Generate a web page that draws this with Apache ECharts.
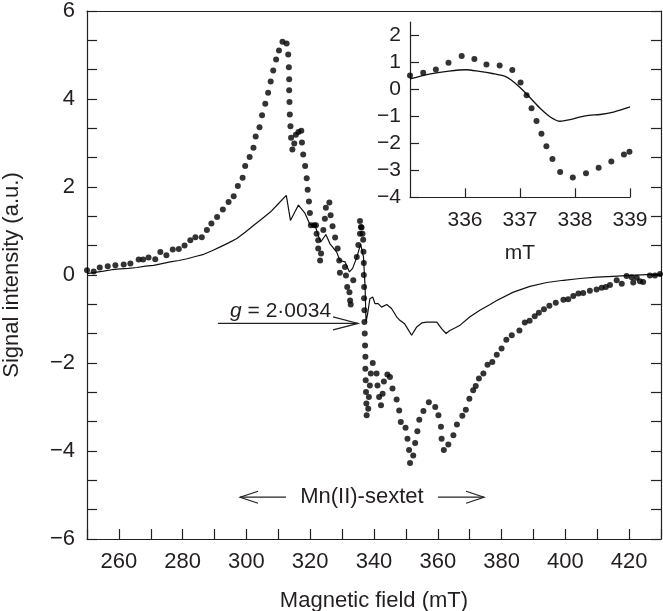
<!DOCTYPE html>
<html><head><meta charset="utf-8">
<script src="https://cdn.jsdelivr.net/npm/echarts@6/dist/echarts.min.js"></script>
<style>html,body{margin:0;padding:0;background:#fff}#c{width:663px;height:611px}</style>
</head><body><div id="c"></div>
<script>
// ---- main chart data (Magnetic field mT, signal a.u.) ----
const mainDots = [
[250.0,0.11],[252.1,0.08],[254.0,0.17],[256.5,0.20],[258.9,0.22],[261.5,0.24],[263.6,0.26],[266.2,0.35],[267.6,0.35],[269.3,0.40],
[271.4,0.36],[273.0,0.52],[274.9,0.45],[276.9,0.58],[278.8,0.59],[280.6,0.67],[282.4,0.79],[284.0,0.86],[286.0,0.86],[287.6,1.02],
[289.0,1.17],[290.8,1.32],[292.6,1.49],[294.4,1.66],[296.0,1.79],[297.3,2.02],[298.8,2.21],[299.6,2.48],[301.0,2.68],[302.2,2.89],
[302.9,3.15],[304.1,3.36],[304.9,3.63],[305.9,3.89],[306.8,4.14],[307.6,4.40],[308.4,4.65],[309.3,4.90],[310.2,5.10],[311.3,5.30],
[312.6,5.26],[313.1,5.01],[313.3,4.72],[313.4,4.45],[313.4,4.20],[313.5,3.93],[313.6,3.65],[313.8,3.38],[314.0,3.12],[314.4,2.85],
[315.0,2.99],[315.5,3.19],[316.3,3.25],[317.2,3.28],[317.4,3.01],[317.8,2.74],[318.4,2.48],[318.9,2.20],[319.2,1.94],[319.6,1.67],
[319.9,1.41],[320.2,1.13],[321.2,1.13],[321.8,1.13],[322.0,0.94],[322.5,0.79],[322.5,0.60],[323.4,0.49],[323.1,0.33],[324.1,1.02],
[324.6,1.28],[324.9,1.53],[326.0,1.65],[326.4,1.36],[327.0,1.11],[327.8,0.85],[328.6,0.60],[329.1,0.33],[329.3,0.05],[330.9,0.18],
[331.2,-0.01],[331.6,-0.27],[332.3,-0.39],[332.5,-0.58],[332.7,-0.67],[333.5,-0.12],[334.6,0.41],[335.1,0.68],[335.6,0.94],[335.9,1.09],
[335.6,1.23],[336.1,1.08],[336.4,0.94],[336.6,0.80],[336.7,0.53],[336.8,0.27],[336.8,0.00],[336.9,-0.27],[336.9,-0.53],[337.0,-0.80],
[337.0,-1.07],[337.1,-1.33],[337.2,-1.60],[337.3,-1.86],[337.3,-2.13],[337.4,-2.39],[337.5,-2.66],[337.6,-2.92],[337.7,-3.19],
[338.2,-3.04],[338.4,-2.77],[338.7,-2.51],[339.0,-2.24],[339.6,-2.00],[340.8,-2.24],[341.1,-2.51],[341.6,-2.77],[342.2,-2.96],[342.7,-2.70],
[343.1,-2.42],[344.2,-2.26],[345.0,-2.32],[345.8,-2.58],[347.1,-2.83],[347.9,-3.08],[348.4,-3.34],[349.9,-3.47],[350.5,-3.72],[351.0,-3.98],
[351.3,-4.27],[352.3,-4.10],[352.9,-3.82],[353.6,-3.55],[354.2,-3.29],[355.5,-3.09],[357.2,-2.89],[359.2,-3.00],[360.2,-3.19],[361.0,-3.45],
[361.2,-3.72],[361.9,-3.98],[363.3,-3.85],[364.9,-3.64],[366.0,-3.40],[367.7,-3.20],[368.8,-3.06],[369.9,-2.81],[371.1,-2.62],[371.9,-2.52],
[372.9,-2.35],[374.3,-2.24],[375.6,-2.04],[377.1,-1.98],[378.5,-1.81],[380.0,-1.67],[381.5,-1.47],[383.2,-1.37],[385.6,-1.26],[387.3,-1.08],
[388.8,-1.04],[390.4,-0.94],[391.7,-0.86],[393.3,-0.78],[395.0,-0.70],[397.0,-0.63],[399.4,-0.56],[400.9,-0.55],[402.5,-0.48],[404.1,-0.42],
[405.6,-0.41],[407.7,-0.36],[409.8,-0.33],[411.4,-0.29],[412.7,-0.27],[414.0,-0.23],[416.1,-0.12],[417.7,-0.20],[419.2,-0.02],[420.8,-0.05],
[421.3,-0.17],[422.4,-0.06],[423.4,-0.14],[424.4,-0.16],[426.5,-0.01],[428.1,-0.01],[429.7,0.02]
];
const mainLine = [
[250.0,0.03],[252.5,0.06],[255.2,0.09],[257.8,0.12],[260.4,0.14],[263.0,0.15],[265.7,0.17],[268.3,0.20],[270.9,0.22],[273.5,0.26],
[276.1,0.30],[278.8,0.33],[281.4,0.37],[284.0,0.42],[286.6,0.47],[289.2,0.55],[291.8,0.64],[294.4,0.73],[297.0,0.83],[299.6,0.97],
[302.3,1.13],[304.9,1.28],[307.5,1.43],[310.0,1.62],[312.5,1.81],[313.8,1.24],[316.3,1.59],[318.4,1.40],[319.9,1.15],[321.5,1.13],
[322.5,0.90],[323.3,0.75],[324.9,0.92],[326.2,0.71],[328.3,0.52],[329.3,0.33],[330.9,0.30],[332.3,0.07],[333.3,0.15],[334.6,0.40],
[335.8,0.70],[336.7,0.41],[337.2,-0.27],[337.5,-1.07],[338.0,-0.88],[338.7,-0.54],[339.6,-0.50],[340.3,-0.65],[341.3,-0.65],[342.4,-0.73],
[344.0,-0.67],[345.5,-0.76],[347.1,-0.95],[348.1,-1.03],[349.5,-1.10],[350.2,-1.18],[351.8,-1.37],[353.4,-1.18],[355.0,-1.09],[356.5,-1.07],
[358.1,-1.07],[359.7,-1.07],[361.2,-1.22],[362.6,-1.33],[363.8,-1.26],[365.5,-1.20],[367.0,-1.14],[370.1,-0.95],[373.2,-0.80],[376.4,-0.67],
[378.5,-0.58],[383.7,-0.39],[388.9,-0.26],[394.2,-0.17],[399.4,-0.12],[404.6,-0.08],[409.8,-0.05],[415.0,-0.03],[420.3,-0.01],[425.5,0.01],
[430.0,0.02]
];
// ---- inset data (mT) ----
const insetDots = [
[335.0,0.52],[335.24,0.62],[335.47,0.74],[335.70,0.99],[335.94,1.24],[336.17,1.13],[336.39,0.92],[336.63,0.89],[336.86,0.72],[337.01,0.26],
[337.12,-0.22],[337.21,-0.70],[337.30,-1.17],[337.39,-1.64],[337.48,-2.11],[337.59,-2.58],[337.73,-3.06],[337.96,-3.27],[338.20,-3.11],[338.43,-2.90],
[338.66,-2.67],[338.89,-2.41],[338.99,-2.31]
];
const insetLine = [
[335.0,0.39],[335.35,0.57],[335.71,0.68],[336.02,0.73],[336.26,0.67],[336.50,0.59],[336.72,0.49],[336.84,0.35],[337.0,0.07],[337.18,-0.30],
[337.37,-0.71],[337.55,-1.02],[337.73,-1.18],[337.91,-1.12],[338.10,-1.02],[338.25,-0.96],[338.46,-0.93],[338.70,-0.84],[339.0,-0.65]
];
// ---- tick labels ----
const mainXTicks = [250,260,270,280,290,300,310,320,330,340,350,360,370,380,390,400,410,420,430];
const mainXLabels = [260,280,300,320,340,360,380,400,420];
const mainYLabels = [-6,-4,-2,0,2,4,6];
const insetXLabels = [336,337,338,339];
const insetYLabels = [-4,-3,-2,-1,0,1,2];

const FONT = "'Liberation Sans', Arial, Helvetica, sans-serif";
const TXT = '#231f20';
const minus = v => String(v).replace('-', '\u2212');
// minor y ticks: thirds of each label interval
const mainYTicks = [];
for (let i = 0; i < mainYLabels.length; i++) {
  mainYTicks.push(mainYLabels[i]);
  if (i < mainYLabels.length - 1) {
    const a = mainYLabels[i], b = mainYLabels[i + 1];
    mainYTicks.push(a + (b - a) / 3, a + 2 * (b - a) / 3);
  }
}
const axLine = {show: true, onZero: false, lineStyle: {color: '#222', width: 1.2}};
const tickStyle = {color: '#222', width: 1.2};

const chart = echarts.init(document.getElementById('c'), null, {renderer: 'canvas'});
const option = {
  backgroundColor: '#fff',
  animation: false,
  textStyle: {fontFamily: FONT},
  grid: [
    {left: 87, top: 11, width: 574, height: 528},
    {left: 410, top: 22, width: 220, height: 175.3}
  ],
  xAxis: [
    {type: 'value', gridIndex: 0, min: 250, max: 430, position: 'bottom',
     axisLine: axLine, splitLine: {show: false},
     axisTick: {show: true, inside: true, length: 10, lineStyle: tickStyle, customValues: mainXTicks},
     axisLabel: {show: true, margin: 12, fontSize: 22, color: TXT, fontFamily: FONT, customValues: mainXLabels}},
    {type: 'value', gridIndex: 0, min: 250, max: 430, position: 'top',
     axisLine: axLine, splitLine: {show: false}, axisTick: {show: false}, axisLabel: {show: false}},
    {type: 'value', gridIndex: 1, min: 335, max: 339, position: 'bottom',
     axisLine: axLine, splitLine: {show: false},
     axisTick: {show: true, inside: true, length: 9, lineStyle: tickStyle, customValues: insetXLabels},
     axisLabel: {show: true, margin: 12, fontSize: 21, color: TXT, fontFamily: FONT, customValues: insetXLabels}}
  ],
  yAxis: [
    {type: 'value', gridIndex: 0, min: -6, max: 6, position: 'left',
     axisLine: axLine, splitLine: {show: false},
     axisTick: {show: true, inside: true, length: 10, lineStyle: tickStyle, customValues: mainYTicks},
     axisLabel: {show: true, margin: 12, fontSize: 22, color: TXT, fontFamily: FONT, customValues: mainYLabels, formatter: minus}},
    {type: 'value', gridIndex: 0, min: -6, max: 6, position: 'right',
     axisLine: axLine, splitLine: {show: false},
     axisTick: {show: true, inside: true, length: 10, lineStyle: tickStyle, customValues: mainYTicks},
     axisLabel: {show: false}},
    {type: 'value', gridIndex: 1, min: -4, max: 2.5, position: 'left',
     axisLine: axLine, splitLine: {show: false},
     axisTick: {show: true, inside: true, length: 9, lineStyle: tickStyle, customValues: insetYLabels},
     axisLabel: {show: true, margin: 9, fontSize: 21, color: TXT, fontFamily: FONT, customValues: insetYLabels, formatter: minus}}
  ],
  series: [
    {type: 'line', xAxisIndex: 0, yAxisIndex: 0, data: mainLine, showSymbol: false, symbol: 'none',
     lineStyle: {color: '#111', width: 1.2}, z: 3},
    {type: 'scatter', xAxisIndex: 0, yAxisIndex: 0, data: mainDots, symbol: 'circle', symbolSize: 6,
     itemStyle: {color: '#000'}, z: 4},
    {type: 'line', xAxisIndex: 2, yAxisIndex: 2, data: insetLine, showSymbol: false, symbol: 'none', smooth: 0.3,
     lineStyle: {color: '#111', width: 1.3}, z: 3},
    {type: 'scatter', xAxisIndex: 2, yAxisIndex: 2, data: insetDots, symbol: 'circle', symbolSize: 6,
     itemStyle: {color: '#000'}, z: 4}
  ]
};
chart.setOption(option);

// annotations placed in data coordinates
const P = (x, y) => chart.convertToPixel({gridIndex: 0}, [x, y]);
const PI = (x, y) => chart.convertToPixel({gridIndex: 1}, [x, y]);
function arrow(fromX, toX, y, back, half) {
  const a = P(fromX, y), b = P(toX, y);
  const dir = b[0] > a[0] ? 1 : -1;
  return [
    {type: 'polyline', shape: {points: [a, b]}, style: {stroke: '#222', lineWidth: 1.2, fill: null}, z: 10},
    {type: 'polyline', shape: {points: [[b[0] - dir * back, b[1] - half], b, [b[0] - dir * back, b[1] + half]]},
     style: {stroke: '#222', lineWidth: 1.2, fill: null}, z: 10}
  ];
}
const gT = P(310.7, -0.825), mnT = P(336.2, -5.05), mtT = PI(337, 0);
const graphics = [].concat(
  arrow(291.1, 335.0, -1.10, 25, 6.5),
  arrow(312.4, 298.0, -5.05, 18, 6),
  arrow(360.1, 374.5, -5.05, 18, 6),
  [
    {type: 'text', x: gT[0], y: gT[1], z: 10,
     style: {text: '{i|g} = 2·0034', rich: {i: {fontStyle: 'italic', fontSize: 21, fontFamily: FONT, fill: TXT}},
             fontSize: 21, fontFamily: FONT, fill: TXT, align: 'center', verticalAlign: 'middle'}},
    {type: 'text', x: mnT[0], y: mnT[1], z: 10,
     style: {text: 'Mn(II)-sextet', fontSize: 22, fontFamily: FONT, fill: TXT, align: 'center', verticalAlign: 'middle'}},
    {type: 'text', x: mtT[0], y: 253, z: 10,
     style: {text: 'mT', fontSize: 21, fontFamily: FONT, fill: TXT, align: 'center', verticalAlign: 'middle'}},
    {type: 'text', x: 374, y: 601, z: 10,
     style: {text: 'Magnetic field (mT)', fontSize: 22, fontFamily: FONT, fill: TXT, align: 'center', verticalAlign: 'middle'}},
    {type: 'text', x: 12, y: 275, rotation: Math.PI / 2, z: 10,
     style: {text: 'Signal intensity (a.u.)', fontSize: 22, fontFamily: FONT, fill: TXT, align: 'center', verticalAlign: 'middle'}}
  ]
);
chart.setOption({graphic: graphics});
</script>
</body></html>
